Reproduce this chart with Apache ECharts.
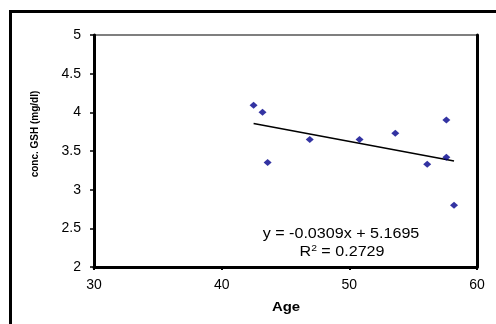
<!DOCTYPE html>
<html>
<head>
<meta charset="utf-8">
<script src="https://cdn.jsdelivr.net/npm/echarts@6/dist/echarts.min.js"></script>
<style>
  html, body { margin: 0; padding: 0; background: #fff; }
  #chart { width: 496px; height: 324px; }
</style>
</head>
<body>
<div id="chart"></div>
<script>
// measured points (Age, conc. GSH)
var ages = [42.5, 43.2, 43.6, 46.9, 50.8, 53.6, 56.1, 57.6, 57.6, 58.2];
var gsh = [4.09, 4.0, 3.35, 3.65, 3.65, 3.73, 3.33, 3.9, 3.42, 2.8];
var slope = -0.0309;
var intercept = 5.1695;
var r2 = 0.2729;
var trendRange = [42.5, 58.2];

var points = ages.map(function (a, i) { return [a, gsh[i]]; });
var trend = trendRange.map(function (x) { return [x, slope * x + intercept]; });

var font = 'Liberation Sans, Arial, sans-serif';
var dom = document.getElementById('chart');
var myChart = echarts.init(dom);
var option = {
    backgroundColor: '#fff',
    animation: false,
    grid: {
        left: 94, top: 35, width: 383, height: 232,
        show: true,
        borderColor: '#555',
        borderWidth: 1.5
    },
    xAxis: [{
        type: 'value',
        min: 30, max: 60, interval: 10,
        splitLine: { show: false },
        axisLine: { lineStyle: { color: '#000', width: 3 } },
        axisTick: { inside: false, length: 3, lineStyle: { color: '#000', width: 2 } },
        axisLabel: { fontFamily: font, fontSize: 14, color: '#000', margin: 11 }
    }],
    yAxis: [{
        type: 'value',
        min: 2, max: 5, interval: 0.5,
        splitLine: { show: false },
        axisLine: { show: true, lineStyle: { color: '#000', width: 3 } },
        axisTick: { show: true, length: 4, lineStyle: { color: '#000', width: 1.5 } },
        axisLabel: { fontFamily: font, fontSize: 14, color: '#000', margin: 13 }
    }, {
        type: 'value',
        min: 2, max: 5,
        position: 'right',
        splitLine: { show: false },
        axisLine: { show: true, lineStyle: { color: '#000', width: 3 } },
        axisTick: { show: false },
        axisLabel: { show: false }
    }],
    graphic: [{
        type: 'rect',
        left: 8, top: 9,
        shape: { width: 520, height: 340 },
        style: { fill: 'none', stroke: '#000', lineWidth: 3 },
        silent: true
    }, {
        type: 'text',
        x: 35, y: 134,
        rotation: Math.PI / 2,
        style: {
            text: 'conc. GSH (mg/dl)',
            font: 'bold 10px ' + font, fill: '#000',
            textAlign: 'center', textVerticalAlign: 'middle'
        }
    }, {
        type: 'text',
        x: 286, y: 307,
        scaleX: 1.15,
        style: {
            text: 'Age',
            font: 'bold 13px ' + font, fill: '#000',
            textAlign: 'center', textVerticalAlign: 'middle'
        }
    }, {
        type: 'text',
        x: 341, y: 234,
        scaleX: 1.15,
        style: {
            text: 'y = -0.0309x + 5.1695',
            font: '14px ' + font, fill: '#000',
            textAlign: 'center', textVerticalAlign: 'middle'
        }
    }, {
        type: 'text',
        x: 342, y: 252,
        scaleX: 1.15,
        style: {
            text: 'R{sup|2} = ' + r2,
            rich: { sup: { fontSize: 9, verticalAlign: 'top', padding: [0, 0, 7, 0] } },
            font: '14px ' + font, fill: '#000',
            textAlign: 'center', textVerticalAlign: 'middle'
        }
    }],
    series: [{
        name: 'GSH',
        type: 'scatter',
        data: points,
        symbol: 'diamond',
        symbolSize: [8, 7],
        itemStyle: { color: '#00008b' },
        z: 3
    }, {
        name: 'Linear',
        type: 'line',
        data: trend,
        symbol: 'none',
        lineStyle: { color: '#000', width: 1.5 },
        z: 2
    }]
};
myChart.setOption(option, true);
</script>
</body>
</html>
